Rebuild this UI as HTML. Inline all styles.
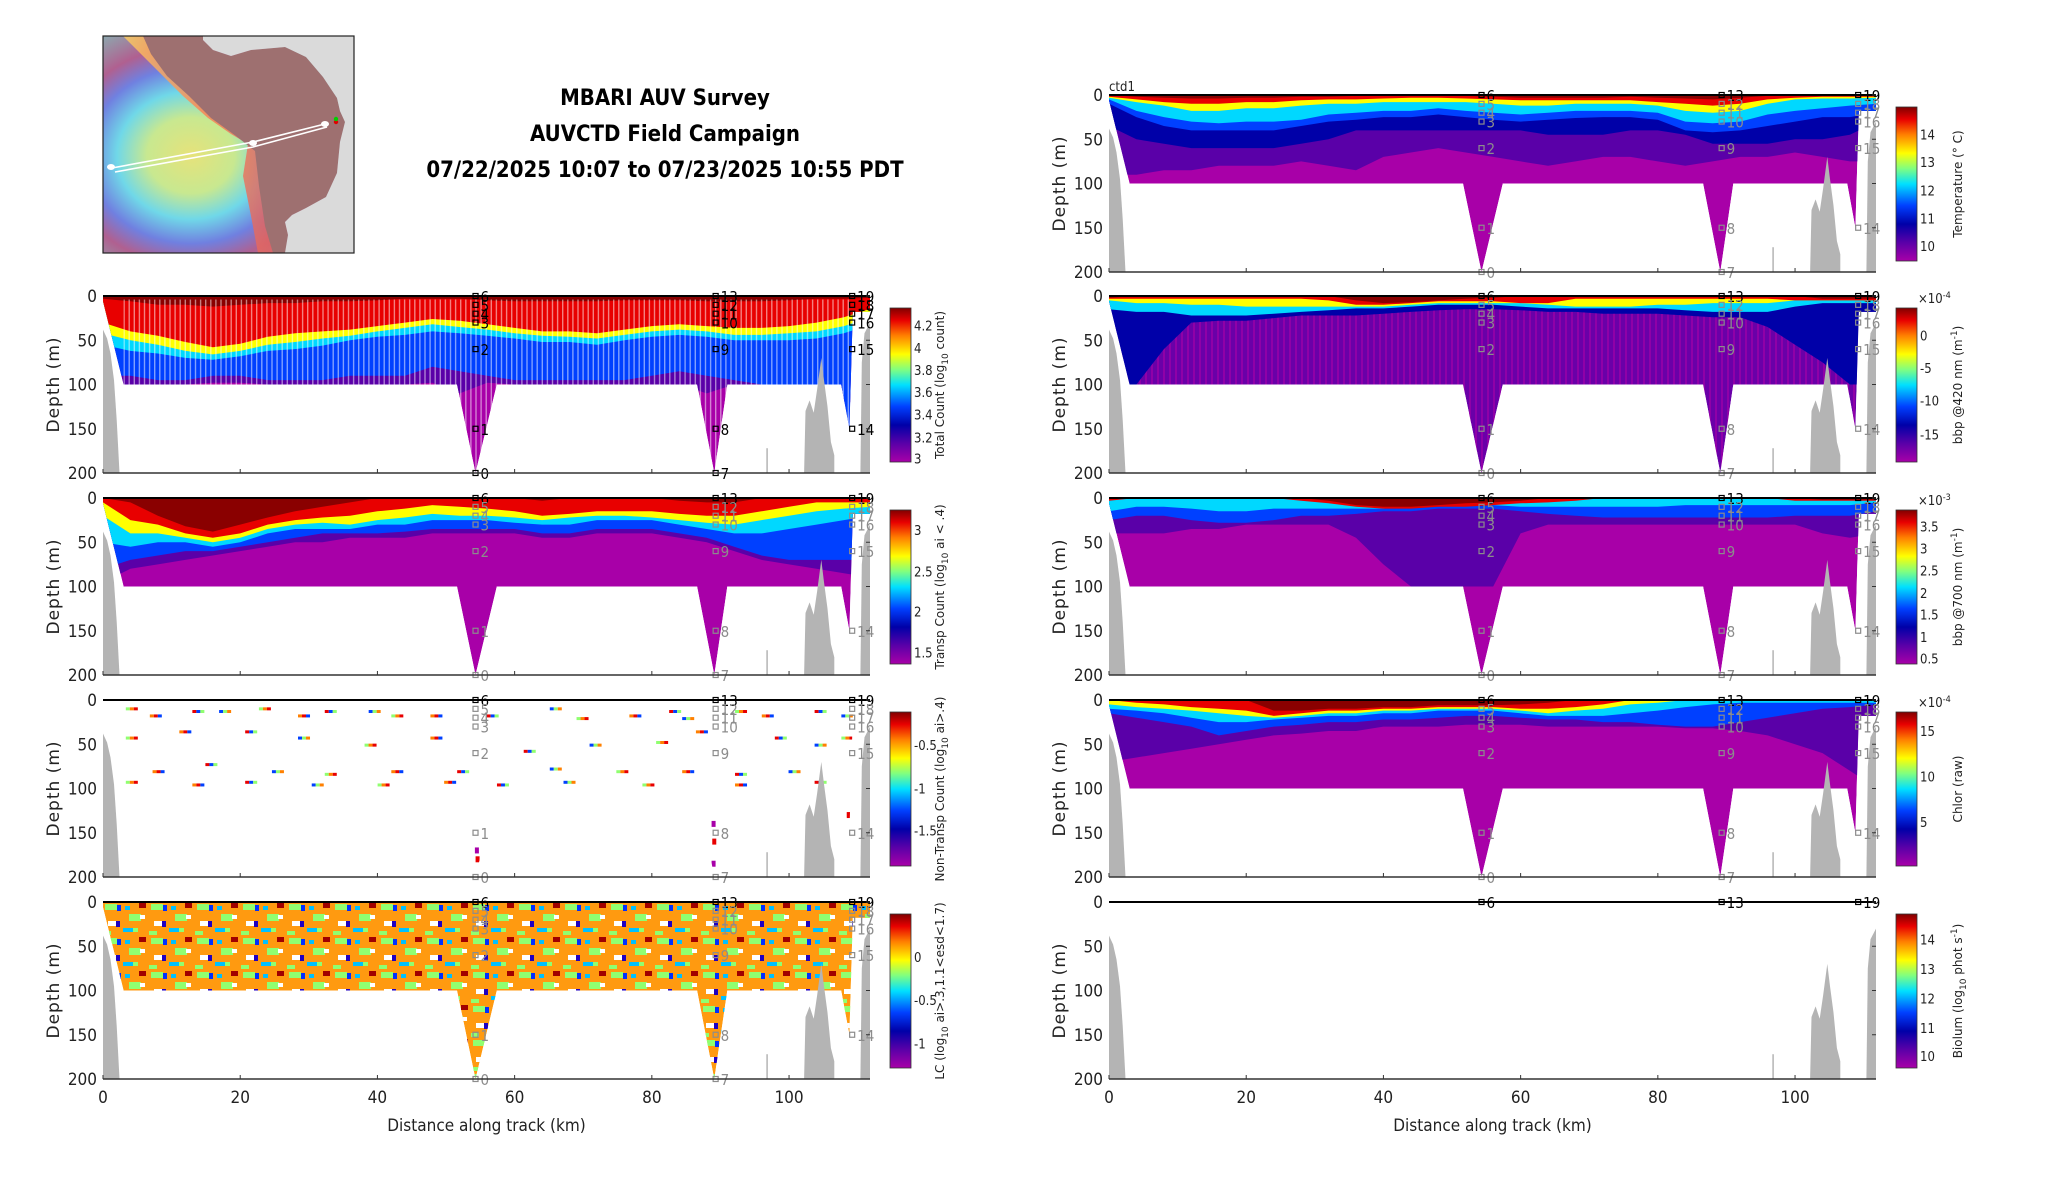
<!DOCTYPE html>
<html><head><meta charset="utf-8"><title>MBARI AUV Survey</title>
<style>
html,body{margin:0;padding:0;background:#fff;}
svg{display:block;}
.tk{font-family:"DejaVu Sans Condensed","Liberation Sans Narrow","Liberation Sans",sans-serif;font-size:17px;fill:#222;}
.cbt{font-family:"DejaVu Sans Condensed","Liberation Sans Narrow","Liberation Sans",sans-serif;font-size:13px;fill:#222;}
.lab{font-family:"DejaVu Sans","Liberation Sans",sans-serif;font-size:17px;fill:#222;letter-spacing:1px;}
.cbl{font-family:"DejaVu Sans","Liberation Sans",sans-serif;font-size:12px;fill:#222;}
.st{font-family:"DejaVu Sans Condensed","Liberation Sans Narrow","Liberation Sans",sans-serif;font-size:15px;}
.ttl{font-family:"DejaVu Sans Condensed","DejaVu Sans","Liberation Sans",sans-serif;font-size:22px;font-weight:bold;fill:#000;}
</style></head>
<body>
<svg id="fig" width="2052" height="1188" viewBox="0 0 2052 1188" xmlns="http://www.w3.org/2000/svg">
<defs>
<linearGradient id="jet" x1="0" y1="1" x2="0" y2="0">
<stop offset="0" stop-color="#a800a8"/><stop offset="0.12" stop-color="#5a00a8"/><stop offset="0.24" stop-color="#0000a8"/>
<stop offset="0.36" stop-color="#0040ff"/><stop offset="0.5" stop-color="#00e0ff"/><stop offset="0.6" stop-color="#80ff80"/>
<stop offset="0.7" stop-color="#ffff00"/><stop offset="0.82" stop-color="#ff8000"/><stop offset="0.92" stop-color="#e80000"/><stop offset="1" stop-color="#800000"/>
</linearGradient>
<radialGradient id="ocean" cx="0.35" cy="0.55" r="0.7">
<stop offset="0" stop-color="#e6e27a"/><stop offset="0.25" stop-color="#c8e890"/><stop offset="0.42" stop-color="#70d8e8"/>
<stop offset="0.58" stop-color="#7080e0"/><stop offset="0.72" stop-color="#b06090"/><stop offset="1" stop-color="#80c0b8"/>
</radialGradient>
<linearGradient id="shelf" x1="0" y1="0" x2="1" y2="0">
<stop offset="0" stop-color="#ffd060"/><stop offset="0.5" stop-color="#ff8050"/><stop offset="1" stop-color="#e06060"/>
</linearGradient>
<pattern id="stripes" width="5.1" height="10" patternUnits="userSpaceOnUse"><rect x="0" y="0" width="1.4" height="10" fill="#ffffff" fill-opacity="0.5"/></pattern>
<pattern id="vstripes" width="6" height="8" patternUnits="userSpaceOnUse"><rect x="0" y="0" width="2" height="8" fill="#a800a8" fill-opacity="0.6"/></pattern>
<pattern id="lcpat" width="46" height="34" patternUnits="userSpaceOnUse">
<rect x="2" y="2" width="12" height="6" fill="#90ff70"/><rect x="14" y="3" width="4" height="6" fill="#0030ff"/>
<rect x="26" y="12" width="12" height="7" fill="#90ff70"/><rect x="37" y="13" width="5" height="4" fill="#ffffff"/>
<rect x="5" y="19" width="8" height="5" fill="#ffffff"/><rect x="13" y="19" width="4" height="6" fill="#2000c0"/>
<rect x="20" y="26" width="10" height="4" fill="#00c0ff"/><rect x="36" y="1" width="7" height="5" fill="#a00000"/>
<rect x="0" y="29" width="8" height="4" fill="#90ff70"/><rect x="30" y="26" width="5" height="4" fill="#90ff70"/>
<rect x="22" y="4" width="5" height="4" fill="#00c0ff"/>
</pattern>
</defs>
</svg>
<script>
// ---------- chart data ----------
const kmGrid = [0,4,8,12,16,20,24,28,32,36,40,44,48,52,56,60,64,68,72,76,80,84,88,92,96,100,104,108,112];
const xTicks = [0,20,40,60,80,100];
const yTicks = [0,50,100,150,200];
const sectionMask = [[0,0],[0,6],[3,100],[51.6,100],[54.3,200],[57.4,100],[86.6,100],[89.1,200],[91,100],[107.6,100],[108.8,150],[109.3,18],[111.8,18],[111.8,0]];
const bathyLeft = [[0,200],[0,38],[0.6,48],[1.1,65],[1.6,95],[2.0,140],[2.4,200]];
const bathyRight1 = [[102.2,200],[102.4,130],[103,118],[103.6,132],[104.1,105],[104.7,70],[105.1,95],[105.6,125],[106.1,165],[106.6,180],[106.6,200]];
const bathyRight2 = [[110.4,200],[110.6,75],[111,42],[111.8,30],[111.8,200]];
const stationCols = [54.3, 89.3, 109.2];
const stationNames = [["6","5","4","3","2","1","0"],["13","12","11","10","9","8","7"],["19","18","17","16","15","14"]];
const stationDepths = [0,10,20,30,60,150,200];

const cLevels = ["#a800a8","#5a00a8","#0000a8","#0040ff","#00d8ff","#90ff70","#ffff00","#ff8000","#e80000","#8a0000"];

// Total count isolines
const tcIndigo = [100,100,100,100,98,98,100,100,100,100,100,100,98,110,98,100,100,100,100,100,100,100,110,100,100,100,110,120,120];
const tcBlue   = [90,90,95,95,90,90,95,95,95,90,90,90,80,85,90,95,95,95,95,95,90,85,90,95,100,100,130,150,150];
const tcCyan   = [55,62,65,70,72,68,62,60,56,50,46,44,40,42,45,48,52,52,55,50,46,44,46,50,50,50,48,42,32];
const tcYellow = [42,50,55,62,66,62,55,52,48,45,40,36,32,35,38,42,45,46,48,44,40,38,40,44,44,42,40,34,24];
const tcRed    = [30,40,45,52,58,54,46,42,40,38,34,30,26,28,32,36,40,40,42,38,34,32,34,36,36,34,30,24,14];
const tcDark   = [3,6,10,10,12,10,8,8,6,6,5,3,3,3,5,6,6,6,6,5,5,5,6,6,6,5,3,3,2];

// Transparent count isolines
const trIndigo = [95,80,75,70,65,60,55,50,50,45,45,45,40,40,40,40,45,45,40,40,40,45,50,60,70,75,80,85,90];
const trBlue   = [80,70,65,60,60,55,50,45,40,40,40,38,35,35,35,35,40,40,35,35,35,40,45,55,65,70,70,70,70];
const trCyan   = [50,55,50,50,55,50,40,35,35,35,30,30,25,25,25,28,30,30,25,25,25,30,35,40,40,35,30,25,20];
const trYellow = [20,40,40,45,50,45,35,30,28,30,25,22,18,20,20,22,25,22,20,20,22,25,28,30,25,20,15,12,10];
const trRed    = [5,25,30,40,45,40,30,25,22,20,15,12,8,10,12,15,20,18,15,15,15,18,20,20,15,10,5,5,5];
const trDark   = [0,5,20,32,38,30,22,15,10,5,0,0,0,0,0,0,3,0,0,0,0,3,5,5,0,0,0,0,0];

// Non-transparent speckles
const ntKm    = [4.2,7.7,13.9,17.8,23.6,29.3,33.2,39.6,42.9,48.6,56.8,66,69.9,77.6,83.4,85.3,93,96.9,104.6,108.5,4.2,12,21.6,29.3,39,48.6,62.2,71.8,81.5,87.3,98.8,104.6,108.5,8.1,15.8,25.5,33.2,42.9,52.5,66,75.7,85.3,93,100.8,4.2,13.9,21.6,31.3,40.9,50.6,58.3,68,79.5,93,104.6];
const ntDepth = [10,18,13,13,10,18,13,13,18,18,18,10,21,18,13,21,13,18,13,18,43,36,36,43,51,43,58,51,48,36,43,51,43,81,73,81,84,81,81,78,81,81,84,81,93,96,93,96,96,93,96,93,96,96,93];
const ntVKm = [54.5,54.6,89.0,89.1,89.0,108.7];
const ntVDepth = [170,180,140,160,185,130];

// Temperature isolines
const tIndigo = [90,90,85,85,80,80,80,75,80,85,70,65,60,65,70,75,80,75,70,70,75,80,75,70,70,65,70,75,75];
const tBlue   = [35,50,55,60,60,60,60,55,50,40,40,40,40,40,40,40,45,45,45,40,40,45,55,55,55,50,50,45,30];
const tLBlue  = [10,25,35,40,40,40,40,35,30,28,25,25,22,25,28,30,28,26,25,25,28,40,42,40,35,30,25,25,20];
const tCyan   = [5,18,25,30,32,30,30,28,22,20,18,18,15,18,20,22,20,18,18,18,20,30,32,30,22,18,15,12,10];
const tYellow = [3,8,12,18,18,15,15,12,10,10,8,8,8,8,10,12,12,10,10,10,12,18,20,18,10,5,4,4,3];
const tRed    = [2,5,8,10,10,8,8,6,5,5,4,3,3,4,5,6,6,6,6,6,8,10,12,10,5,3,2,2,2];
const tDark   = [0,2,3,4,4,3,3,2,2,1,0,0,0,1,2,3,3,3,3,2,3,4,5,3,1,0,0,0,0];

// bbp 420 isolines
const b4Blue   = [100,100,60,30,28,28,25,22,22,22,20,18,16,15,15,16,18,18,20,20,20,22,24,24,35,55,75,100,100];
const b4Cyan   = [15,18,18,22,22,22,20,18,16,14,14,12,10,10,10,12,14,14,14,14,14,16,18,18,18,12,8,8,8];
const b4Yellow = [5,8,8,10,10,12,12,12,12,12,12,10,8,8,8,8,10,12,12,12,10,10,8,8,8,5,5,5,5];
const b4Red    = [3,3,3,3,3,3,3,3,5,10,10,8,6,6,6,8,8,3,3,3,3,3,3,3,3,5,5,5,5];
const b4Dark   = [2,0,0,0,0,0,0,0,0,5,8,7,5,3,2,0,0,0,0,0,0,0,0,0,0,0,3,3,3];

// bbp 700 isolines
const b7Indigo = [40,40,40,35,35,30,30,30,30,45,75,100,100,100,100,40,30,30,30,30,30,30,30,30,30,30,40,45,40];
const b7Blue   = [25,20,20,25,28,28,25,20,20,18,15,15,12,12,12,15,18,20,22,22,22,22,22,22,22,20,20,20,15];
const b7Cyan   = [15,10,10,12,15,15,12,12,12,12,12,10,8,8,8,10,10,10,10,10,10,8,8,8,8,8,8,8,5];
const b7Red    = [3,0,0,0,0,0,0,3,6,10,12,12,10,10,8,6,5,3,0,0,0,0,0,0,0,3,3,3,3];
const b7Dark   = [0,0,0,0,0,0,0,0,3,8,10,10,8,6,5,3,0,0,0,0,0,0,0,0,0,0,2,2,2];

// Chlorophyll isolines
const chIndigo = [70,65,60,55,50,45,40,38,35,35,30,30,30,28,28,28,30,30,30,30,30,32,32,35,40,50,60,80,100];
const chBlue   = [15,20,25,30,40,35,30,28,25,25,22,22,20,18,18,20,22,22,25,25,28,30,30,25,20,15,10,8,5];
const chCyan   = [10,12,15,20,25,25,22,20,18,18,15,15,12,12,12,15,18,18,18,15,12,8,5,3,3,3,3,3,3];
const chYellow = [5,8,10,12,15,18,20,18,15,15,12,12,10,10,10,12,15,12,10,5,3,0,0,0,0,0,0,0,0];
const chRed    = [0,3,5,8,10,12,18,15,12,12,10,10,8,8,8,10,10,8,5,0,0,0,0,0,0,0,0,0,0];
const chDark   = [0,0,0,0,0,0,12,12,10,10,8,8,6,6,6,5,3,0,0,0,0,0,0,0,0,0,0,0,0];

// colour bar tick labels
const cbTotalLabels = ["4.2","4","3.8","3.6","3.4","3.2","3"];
const cbTotalFrac = [0.885,0.74,0.596,0.453,0.31,0.16,0.022];
const cbTranspLabels = ["3","2.5","2","1.5"];
const cbTranspFrac = [0.87,0.6,0.34,0.076];
const cbNonLabels = ["-0.5","-1","-1.5"];
const cbNonFrac = [0.786,0.504,0.23];
const cbLcLabels = ["0","-0.5","-1"];
const cbLcFrac = [0.72,0.44,0.16];
const cbTempLabels = ["14","13","12","11","10"];
const cbTempFrac = [0.821,0.642,0.458,0.277,0.097];
const cbB4Labels = ["0","-5","-10","-15"];
const cbB4Frac = [0.82,0.61,0.4,0.18];
const cbB7Labels = ["3.5","3","2.5","2","1.5","1","0.5"];
const cbB7Frac = [0.892,0.75,0.606,0.462,0.32,0.176,0.037];
const cbChLabels = ["15","10","5"];
const cbChFrac = [0.877,0.58,0.286];
const cbBioLabels = ["14","13","12","11","10"];
const cbBioFrac = [0.835,0.643,0.452,0.26,0.078];

// ---------- drawing ----------
const NS = "http://www.w3.org/2000/svg";
const svg = document.getElementById("fig");
const PW = 767, PH = 177, KMAX = 111.8;
function xs(km){ return km / KMAX * PW; }
function ys(d){ return d / 200 * PH; }
function mk(tag, parent){ const e = document.createElementNS(NS, tag); parent.appendChild(e); return e; }
function ptsOf(arr){ return arr.map(p => xs(p[0]).toFixed(1) + "," + ys(p[1]).toFixed(1)).join(" "); }

const defs = svg.querySelector("defs");
const cp = mk("clipPath", defs);
cp.setAttribute("id", "secmask");
const cpPoly = mk("polygon", cp);
cpPoly.setAttribute("points", ptsOf(sectionMask));

function bandPoly(g, depths, color){
  let pts = [];
  for (let i = 0; i < kmGrid.length; i++) pts.push([kmGrid[i], 0]);
  for (let i = kmGrid.length - 1; i >= 0; i--) pts.push([kmGrid[i], depths[i]]);
  const p = mk("polygon", g);
  p.setAttribute("points", ptsOf(pts));
  p.setAttribute("fill", color);
  
  
}

function panel(L, T, name, bands, opts){
  const g = mk("g", svg);
  g.setAttribute("transform", "translate(" + L + "," + T + ")");
  
  
  const data = mk("g", g);
  data.setAttribute("clip-path", "url(#secmask)");
  
  
  if (bands) {
    const base = mk("polygon", data);
    base.setAttribute("points", ptsOf(sectionMask));
    base.setAttribute("fill", opts.base || cLevels[0]);
    
    
    if (opts.preExtra) opts.preExtra(data);
    bands.forEach(b => bandPoly(data, b[0], b[1]));
  }
  if (opts.extra) opts.extra(data, g);
  [bathyLeft, bathyRight1, bathyRight2].forEach(bp => {
    const p = mk("polygon", g);
    p.setAttribute("points", ptsOf(bp));
    p.setAttribute("fill", "#b4b4b4");
    
    
  });
  const bl = mk("line", g);
  bl.setAttribute("x1", xs(96.8)); bl.setAttribute("x2", xs(96.8));
  bl.setAttribute("y1", ys(172)); bl.setAttribute("y2", ys(200));
  bl.setAttribute("stroke", "#b4b4b4"); bl.setAttribute("stroke-width", "1.5");
  
  
  stationCols.forEach((km, ci) => {
    stationNames[ci].forEach((nm, k) => {
      const d = stationDepths[k];
      const col = (opts.blackStations || k === 0) ? "#000" : "#8c8c8c";
      if (opts.noStations && k > 0) return;
      const r = mk("rect", g);
      r.setAttribute("x", xs(km) - 2.5); r.setAttribute("y", ys(d) - 2.5);
      r.setAttribute("width", 5); r.setAttribute("height", 5);
      r.setAttribute("fill", "none"); r.setAttribute("stroke", col); r.setAttribute("stroke-width", "1.2");
      
      
      const t = mk("text", g);
      t.setAttribute("x", xs(km) + 5); t.setAttribute("y", ys(d) + 6);
      t.setAttribute("class", "st"); t.setAttribute("fill", col);
      t.textContent = nm;
      
      
    });
  });
  const top = mk("line", g);
  top.setAttribute("x1", 0); top.setAttribute("x2", PW); top.setAttribute("y1", 0); top.setAttribute("y2", 0);
  top.setAttribute("stroke", "#000"); top.setAttribute("stroke-width", "2");
   
  const bot = mk("line", g);
  bot.setAttribute("x1", 0); bot.setAttribute("x2", PW); bot.setAttribute("y1", PH); bot.setAttribute("y2", PH);
  bot.setAttribute("stroke", "#333"); bot.setAttribute("stroke-width", "1.5");
   
  xTicks.forEach(v => {
    const tl = mk("line", g);
    tl.setAttribute("x1", xs(v)); tl.setAttribute("x2", xs(v)); tl.setAttribute("y1", PH); tl.setAttribute("y2", PH - 4);
    tl.setAttribute("stroke", "#333");
     
    if (opts.xLabels) {
      const tx = mk("text", g);
      tx.setAttribute("x", xs(v)); tx.setAttribute("y", PH + 24); tx.setAttribute("text-anchor", "middle");
      tx.setAttribute("class", "tk"); tx.textContent = v;
       
    }
  });
  yTicks.forEach(v => {
    const tx = mk("text", g);
    tx.setAttribute("x", -6); tx.setAttribute("y", ys(v) + 6); tx.setAttribute("text-anchor", "end");
    tx.setAttribute("class", "tk"); tx.textContent = v;
     
    const tl = mk("line", g);
    tl.setAttribute("x1", PW); tl.setAttribute("x2", PW - 4); tl.setAttribute("y1", ys(v)); tl.setAttribute("y2", ys(v));
    tl.setAttribute("stroke", "#333");
     
  });
  const yl = mk("text", g);
  yl.setAttribute("transform", "translate(-44," + (PH/2) + ") rotate(-90)");
  yl.setAttribute("text-anchor", "middle"); yl.setAttribute("class", "lab");
  yl.textContent = "Depth (m)";
   
  if (opts.xLabels) {
    const xl = mk("text", g);
    xl.setAttribute("x", PW/2); xl.setAttribute("y", PH + 52); xl.setAttribute("text-anchor", "middle");
    xl.setAttribute("class", "tk"); xl.textContent = "Distance along track (km)";
     
  }
  const cb = mk("g", g);
  cb.setAttribute("transform", "translate(" + (PW + 20) + ",12)");
  
  
  const H = 154;
  const r = mk("rect", cb);
  r.setAttribute("width", 21); r.setAttribute("height", H); r.setAttribute("fill", "url(#jet)");
  r.setAttribute("stroke", "#333"); r.setAttribute("stroke-width", "0.8");
   
  opts.cbLabels.forEach((lb, i) => {
    const y = H * (1 - opts.cbFrac[i]);
    const t = mk("text", cb);
    t.setAttribute("x", 24); t.setAttribute("y", y + 5); t.setAttribute("class", "cbt");
    t.textContent = lb;
     
  });
  if (opts.exp) {
    const t = mk("text", cb);
    t.setAttribute("x", 22); t.setAttribute("y", -5); t.setAttribute("class", "cbt"); t.setAttribute("fill", "#555");
    t.innerHTML = "×10<tspan dy='-5' font-size='9'>" + opts.exp + "</tspan>";
     
  }
  const ct = mk("text", cb);
  ct.setAttribute("transform", "translate(" + opts.cbLabelX + "," + (H/2) + ") rotate(-90)");
  ct.setAttribute("text-anchor", "middle"); ct.setAttribute("class", "cbl");
  ct.innerHTML = opts.cbTitle;
   
  return g;
}

const LX = 103, RX = 1109;
const tops = [296, 498, 700, 902];

panel(LX, tops[0], "total-count-panel",
  [[tcIndigo,cLevels[1]],[tcBlue,cLevels[3]],[tcCyan,cLevels[4]],[tcYellow,cLevels[6]],[tcRed,cLevels[8]],[tcDark,cLevels[9]]],
  {blackStations:true, cbLabels:cbTotalLabels, cbFrac:cbTotalFrac, cbLabelX:54,
   cbTitle:"Total Count (log<tspan dy='4' font-size='9'>10</tspan><tspan dy='-4'> count)</tspan>",
   extra:(d)=>{ const s = mk("rect", d); s.setAttribute("x", xs(3)); s.setAttribute("y", ys(4)); s.setAttribute("width", xs(106)); s.setAttribute("height", ys(196)); s.setAttribute("fill", "url(#stripes)");
       }});

panel(LX, tops[1], "transp-count-panel",
  [[trIndigo,cLevels[1]],[trBlue,cLevels[3]],[trCyan,cLevels[4]],[trYellow,cLevels[6]],[trRed,cLevels[8]],[trDark,cLevels[9]]],
  {cbLabels:cbTranspLabels, cbFrac:cbTranspFrac, cbLabelX:54,
   cbTitle:"Transp Count (log<tspan dy='4' font-size='9'>10</tspan><tspan dy='-4'> ai &lt; .4)</tspan>"});

panel(LX, tops[2], "non-transp-count-panel", null,
  {cbLabels:cbNonLabels, cbFrac:cbNonFrac, cbLabelX:54,
   cbTitle:"Non-Transp Count (log<tspan dy='4' font-size='9'>10</tspan><tspan dy='-4'> ai&gt;.4)</tspan>",
   extra:(d)=>{
     const cols = ["#90ff70","#ff8000","#e80000","#0040ff"];
     for (let i = 0; i < ntKm.length; i++) {
       for (let j = 0; j < 3; j++) {
         const r = mk("rect", d);
         r.setAttribute("x", xs(ntKm[i]) + j*4 - 6); r.setAttribute("y", ys(ntDepth[i]) - 1.5);
         r.setAttribute("width", 4); r.setAttribute("height", 3);
         r.setAttribute("fill", cols[(i + j) % 4]);
         
         
       }
     }
     for (let i = 0; i < ntVKm.length; i++) {
       const r = mk("rect", d);
       r.setAttribute("x", xs(ntVKm[i]) - 2); r.setAttribute("y", ys(ntVDepth[i]) - 3);
       r.setAttribute("width", 4); r.setAttribute("height", 6);
       r.setAttribute("fill", i % 2 ? "#e80000" : "#a800a8");
       
       
     }
   }});

panel(LX, tops[3], "lc-panel", [], {base:"#ff9a10", xLabels:true, cbLabels:cbLcLabels, cbFrac:cbLcFrac, cbLabelX:54,
   cbTitle:"LC (log<tspan dy='4' font-size='9'>10</tspan><tspan dy='-4'> ai&gt;.3,1.1&lt;esd&lt;1.7)</tspan>",
   extra:(d)=>{ const s = mk("rect", d); s.setAttribute("width", PW); s.setAttribute("height", PH); s.setAttribute("fill", "url(#lcpat)");
       }});

panel(RX, 95, "temperature-panel",
  [[tIndigo,cLevels[1]],[tBlue,cLevels[2]],[tLBlue,cLevels[3]],[tCyan,cLevels[4]],[tYellow,cLevels[6]],[tRed,cLevels[8]],[tDark,cLevels[9]]],
  {cbLabels:cbTempLabels, cbFrac:cbTempFrac, cbLabelX:66, cbTitle:"Temperature (° C)"});

panel(RX, tops[0], "bbp420-panel",
  [[b4Blue,cLevels[2]],[b4Cyan,cLevels[4]],[b4Yellow,cLevels[6]],[b4Red,cLevels[8]],[b4Dark,cLevels[9]]],
  {base:"#6a00a8", exp:"-4", cbLabels:cbB4Labels, cbFrac:cbB4Frac, cbLabelX:66,
   preExtra:(d)=>{ const s = mk("rect", d); s.setAttribute("width", PW); s.setAttribute("height", PH); s.setAttribute("fill", "url(#vstripes)");
       },
   cbTitle:"bbp @420 nm (m<tspan dy='-5' font-size='9'>-1</tspan><tspan dy='5'>)</tspan>"});

panel(RX, tops[1], "bbp700-panel",
  [[b7Indigo,cLevels[1]],[b7Blue,cLevels[3]],[b7Cyan,cLevels[4]],[b7Red,cLevels[8]],[b7Dark,cLevels[9]]],
  {exp:"-3", cbLabels:cbB7Labels, cbFrac:cbB7Frac, cbLabelX:66, cbTitle:"bbp @700 nm (m<tspan dy='-5' font-size='9'>-1</tspan><tspan dy='5'>)</tspan>"});

panel(RX, tops[2], "chlorophyll-panel",
  [[chIndigo,cLevels[1]],[chBlue,cLevels[3]],[chCyan,cLevels[4]],[chYellow,cLevels[6]],[chRed,cLevels[8]],[chDark,cLevels[9]]],
  {exp:"-4", cbLabels:cbChLabels, cbFrac:cbChFrac, cbLabelX:66, cbTitle:"Chlor (raw)"});

panel(RX, tops[3], "biolum-panel", null,
  {xLabels:true, noStations:true, cbLabels:cbBioLabels, cbFrac:cbBioFrac, cbLabelX:66,
   cbTitle:"Biolum (log<tspan dy='4' font-size='9'>10</tspan><tspan dy='-4'> phot s</tspan><tspan dy='-5' font-size='9'>-1</tspan><tspan dy='5'>)</tspan>"});

const ctd = mk("text", svg);
ctd.setAttribute("x", RX); ctd.setAttribute("y", 91); ctd.setAttribute("class", "cbt");
ctd.textContent = "ctd1";
 

const titles = ["MBARI AUV Survey","AUVCTD Field Campaign","07/22/2025 10:07 to 07/23/2025 10:55 PDT"];
titles.forEach((s, i) => {
  const t = mk("text", svg);
  t.setAttribute("x", 665); t.setAttribute("y", 105 + i*36); t.setAttribute("text-anchor", "middle");
  t.setAttribute("class", "ttl"); t.textContent = s;
   
});

// map
const mg = mk("g", svg);
mg.setAttribute("transform", "translate(103,36)");


const oc = mk("rect", mg);
oc.setAttribute("width", 251); oc.setAttribute("height", 217); oc.setAttribute("fill", "url(#ocean)");
 
const shelf = mk("polygon", mg);
shelf.setAttribute("points", "20,0 40,20 60,40 80,60 105,82 128,98 145,108 140,140 148,180 155,217 175,217 165,190 158,150 155,112 135,96 110,78 88,55 66,34 48,12 40,0");
shelf.setAttribute("fill", "url(#shelf)"); shelf.setAttribute("fill-opacity", "0.8");
 
const land = mk("polygon", mg);
land.setAttribute("points", "40,0 100,0 100,4 110,14 128,20 148,14 182,11 203,21 220,41 234,62 237,75 242,86 237,106 234,137 223,161 203,172 189,179 182,186 185,199 182,217 170,217 162,190 156,150 152,115 133,100 108,82 86,60 64,40 48,18");
land.setAttribute("fill", "#9e7070");
 
const gray = mk("polygon", mg);
gray.setAttribute("points", "100,0 251,0 251,217 182,217 185,199 182,186 189,179 203,172 223,161 234,137 237,106 242,86 237,75 234,62 220,41 203,21 182,11 148,14 128,20 110,14 100,4");
gray.setAttribute("fill", "#dadada");
 
const tr1 = mk("polyline", mg);
tr1.setAttribute("points", "9,132 150,106 222,88");
tr1.setAttribute("fill", "none"); tr1.setAttribute("stroke", "#fff"); tr1.setAttribute("stroke-width", "1.6");
 
const tr2 = mk("polyline", mg);
tr2.setAttribute("points", "12,136 150,111 224,91");
tr2.setAttribute("fill", "none"); tr2.setAttribute("stroke", "#fff"); tr2.setAttribute("stroke-width", "1.6");
 
[[8,131,"#fff"],[150,107,"#fff"],[222,88,"#fff"],[233,86,"#e00000"],[233,83,"#00d000"]].forEach(p => {
  const c = mk("ellipse", mg);
  c.setAttribute("cx", p[0]); c.setAttribute("cy", p[1]); c.setAttribute("rx", p[2] === "#fff" ? 4 : 2.2); c.setAttribute("ry", p[2] === "#fff" ? 3 : 2.2);
  c.setAttribute("fill", p[2]);
   
});
const mb = mk("rect", mg);
mb.setAttribute("width", 251); mb.setAttribute("height", 217); mb.setAttribute("fill", "none"); mb.setAttribute("stroke", "#222"); mb.setAttribute("stroke-width", "1.2");
 
</script>
</body></html>
